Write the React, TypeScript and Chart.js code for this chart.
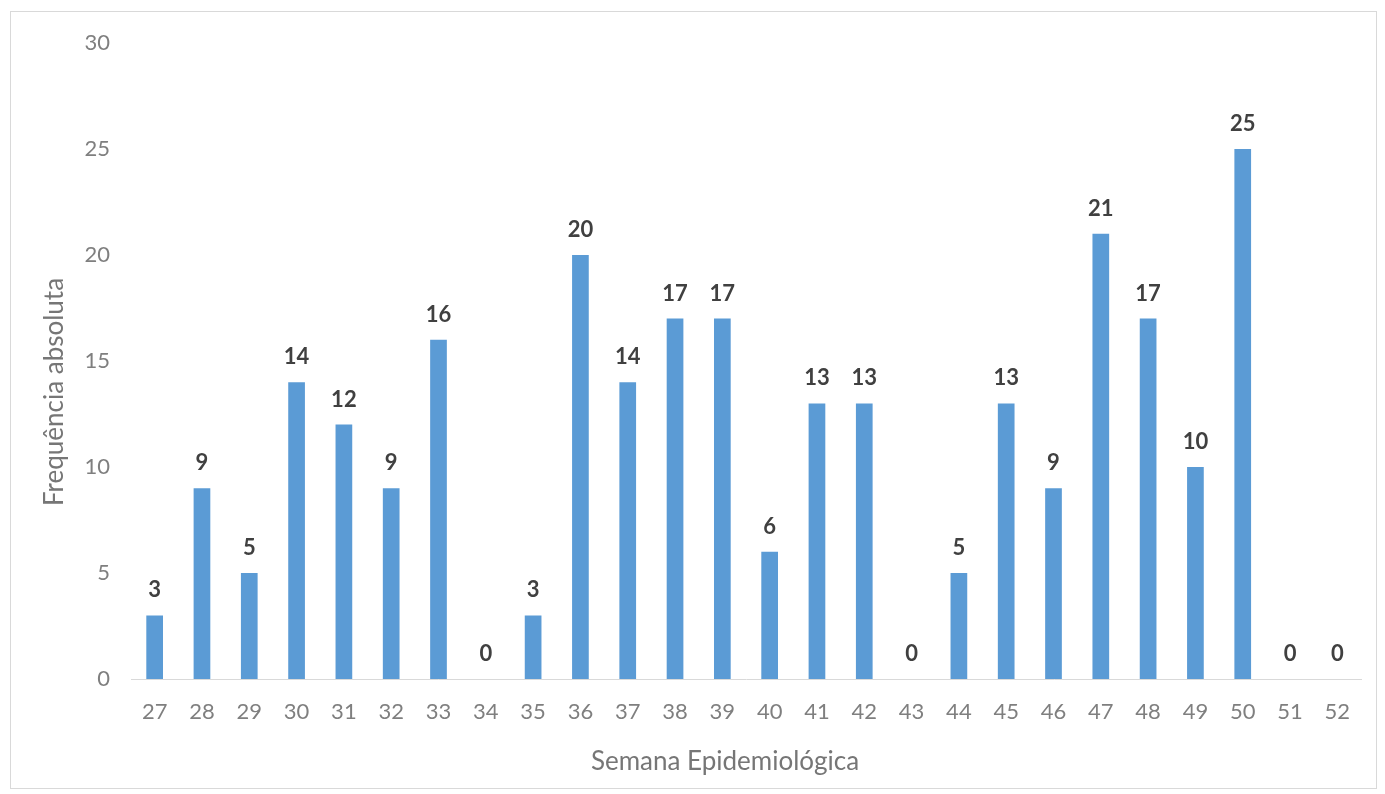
import React, { useEffect, useRef } from "react";
import { Chart, registerables } from "chart.js";

Chart.register(...registerables);

const weeks: string[] = [
  "27", "28", "29", "30", "31", "32", "33", "34", "35", "36", "37", "38", "39",
  "40", "41", "42", "43", "44", "45", "46", "47", "48", "49", "50", "51", "52",
];
const cases: number[] = [
  3, 9, 5, 14, 12, 9, 16, 0, 3, 20, 14, 17, 17, 6, 13, 13, 0, 5, 13, 9, 21, 17, 10, 25, 0, 0,
];
const yTicks: number[] = [0, 5, 10, 15, 20, 25, 30];
const xTitle = "Semana Epidemiológica";
const yTitle = "Frequência absoluta";

const FONT = "Lato, 'Open Sans', sans-serif";

const labelsPlugin = {
  id: "valueLabelsAndTitles",
  afterDatasetsDraw(chart: any) {
    const ctx = chart.ctx as CanvasRenderingContext2D;
    const meta = chart.getDatasetMeta(0);
    ctx.save();
    ctx.font = `bold 22px ${FONT}`;
    ctx.fillStyle = "#404040";
    ctx.textAlign = "center";
    ctx.textBaseline = "middle";
    meta.data.forEach((bar: any, i: number) => {
      ctx.fillText(String(cases[i]), bar.x, bar.y - 25);
    });
    // axis titles
    ctx.font = `26px ${FONT}`;
    ctx.fillStyle = "#767676";
    ctx.fillText(xTitle, 725, 762);
    ctx.translate(55, 392);
    ctx.rotate(-Math.PI / 2);
    ctx.fillText(yTitle, 0, 0);
    ctx.restore();
  },
};

export default function App() {
  const ref = useRef<HTMLCanvasElement | null>(null);

  useEffect(() => {
    if (!ref.current) return;
    const chart = new Chart(ref.current, {
      type: "bar",
      data: {
        labels: weeks,
        datasets: [
          {
            data: cases,
            backgroundColor: "#5B9BD5",
            borderWidth: 0,
            barPercentage: 0.353,
            categoryPercentage: 1,
          },
        ],
      },
      options: {
        animation: false,
        responsive: false,
        devicePixelRatio: 1,
        layout: { padding: { left: 0, top: 43, right: 24, bottom: 0 } },
        plugins: {
          legend: { display: false },
          tooltip: { enabled: false },
        },
        scales: {
          x: {
            grid: { display: false, drawTicks: false },
            border: { display: true, color: "#d9d9d9", width: 1 },
            ticks: {
              color: "#7f7f7f",
              font: { family: FONT, size: 22 },
              padding: 20,
              maxRotation: 0,
              autoSkip: false,
            },
            afterFit: (scale: any) => {
              scale.height = 115;
            },
          },
          y: {
            min: 0,
            max: 30,
            grid: { display: false, drawTicks: false },
            border: { display: false },
            afterBuildTicks: (scale: any) => {
              scale.ticks = yTicks.map((v) => ({ value: v }));
            },
            ticks: {
              color: "#7f7f7f",
              font: { family: FONT, size: 22 },
              padding: 21,
            },
            afterFit: (scale: any) => {
              scale.width = 131;
            },
          },
        },
      },
      plugins: [labelsPlugin],
    });
    return () => chart.destroy();
  }, []);

  return (
    <div
      style={{
        position: "fixed",
        left: 0,
        top: 0,
        width: 1385,
        height: 794,
        background: "#ffffff",
      }}
    >
      <div
        style={{
          position: "absolute",
          left: 10,
          top: 11,
          width: 1367,
          height: 778,
          border: "1px solid #d9d9d9",
          boxSizing: "border-box",
        }}
      />
      <canvas
        ref={ref}
        width={1385}
        height={794}
        style={{ position: "absolute", left: 0, top: 0, width: 1385, height: 794 }}
      />
    </div>
  );
}
